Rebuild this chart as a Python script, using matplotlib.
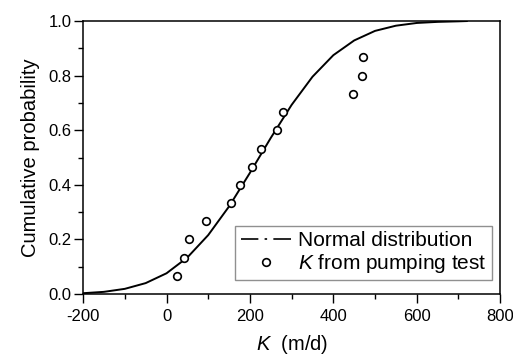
import matplotlib
matplotlib.use("Agg")
import matplotlib.pyplot as plt
from matplotlib.lines import Line2D
from matplotlib.legend_handler import HandlerLine2D
from matplotlib.ticker import MultipleLocator, FormatStrFormatter

plt.rcParams["font.family"] = ["Liberation Sans", "DejaVu Sans"]
plt.rcParams["mathtext.fontset"] = "custom"
plt.rcParams["mathtext.rm"] = "Liberation Sans"
plt.rcParams["mathtext.it"] = "Liberation Sans:italic"
plt.rcParams["axes.unicode_minus"] = False
plt.rcParams["lines.scale_dashes"] = False

# fitted normal CDF
curve_k = [-200, -150, -100, -50, 0, 50, 100, 150, 200, 250, 300, 350,
           400, 450, 500, 550, 600, 650, 700, 720]
curve_p = [0.003, 0.008, 0.019, 0.040, 0.076, 0.134, 0.216, 0.321, 0.444,
           0.572, 0.693, 0.796, 0.875, 0.929, 0.964, 0.983, 0.993, 0.997,
           0.999, 1.0]

# K values from pumping tests (m/d) and their plotting positions
test_k = [26, 41, 55, 95, 155, 175, 206, 227, 265, 279, 446, 468, 470]
test_p = [0.067, 0.133, 0.200, 0.267, 0.333, 0.400, 0.467, 0.533, 0.600,
          0.667, 0.733, 0.800, 0.867]


class LeftMarkerHandler(HandlerLine2D):
    # Origin style: marker sits at the left of the legend handle
    def get_xdata(self, legend, xdescent, ydescent, width, height, fontsize):
        xdata, _ = super().get_xdata(legend, xdescent, ydescent, width, height, fontsize)
        return xdata, [-xdescent + 0.08 * width]


fig = plt.figure(figsize=(5.13, 3.63), dpi=100)
ax = fig.add_axes([0.162, 0.190, 0.813, 0.752])

ax.plot(curve_k, curve_p, color="black", linewidth=1.4)
pts, = ax.plot(test_k, test_p, linestyle="none", marker="o", markersize=5.5,
               markerfacecolor="white", markeredgecolor="black", markeredgewidth=1.2)

ax.set_xlim(-200, 800)
ax.set_ylim(0, 1.0)
ax.xaxis.set_major_locator(MultipleLocator(200))
ax.xaxis.set_minor_locator(MultipleLocator(100))
ax.yaxis.set_major_locator(MultipleLocator(0.2))
ax.yaxis.set_minor_locator(MultipleLocator(0.1))
ax.yaxis.set_major_formatter(FormatStrFormatter("%.1f"))
ax.tick_params(which="both", direction="out", width=1.0, labelsize=12,
               top=False, right=False)
ax.tick_params(which="major", length=6.5, pad=2)
ax.tick_params(axis="x", which="major", pad=4)
ax.tick_params(which="minor", length=3.5)
for s in ax.spines.values():
    s.set_linewidth(1.1)

ax.set_xlabel("$K$  (m/d)", fontsize=14.5, labelpad=7)
ax.set_ylabel("Cumulative probability", fontsize=14.5, labelpad=6)

# legend handle: dash, dot, dash, fitted to the 36 pt handle
dash_handle = Line2D([], [], color="black", linewidth=1.2,
                     dashes=(12.5, 4.5, 1.8, 4.5, 12.7, 10.0), dash_capstyle="butt")
leg = ax.legend([dash_handle, pts],
                ["Normal distribution", "$K$ from pumping test"],
                handler_map={pts: LeftMarkerHandler(numpoints=1)},
                loc="lower right", bbox_to_anchor=(0.98, 0.05),
                borderaxespad=0, fontsize=15, fancybox=False, framealpha=1,
                edgecolor="#909090", handlelength=2.4, handletextpad=0.35,
                borderpad=0.25, labelspacing=0.1)
leg.get_frame().set_linewidth(1.0)

fig.savefig("out.png", dpi=100)
